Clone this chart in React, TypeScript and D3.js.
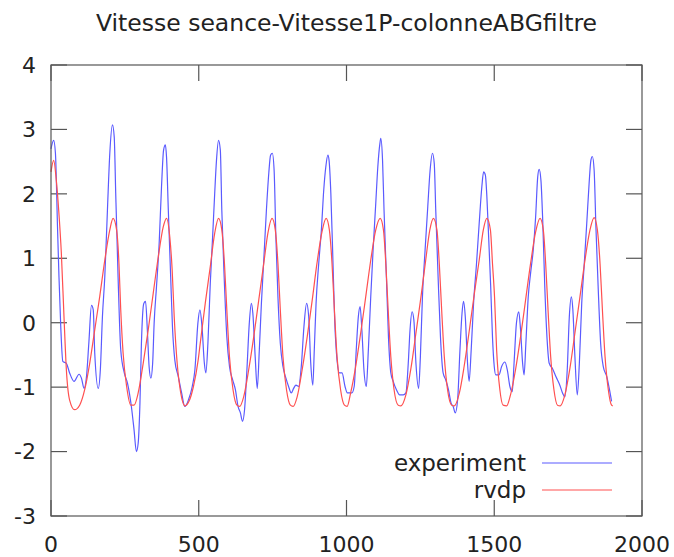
import React, { useEffect, useRef } from 'react';
import * as d3 from 'd3';

type Pt = [number, number];

const chartTitle = 'Vitesse seance-Vitesse1P-colonneABGfiltre';
const seriesNames = ['experiment', 'rvdp'];
const xTicks = [0, 500, 1000, 1500, 2000];
const yTicks = [-3, -2, -1, 0, 1, 2, 3, 4];

// experiment (blue)
const experiment: Pt[] = [
    [0, 2.70], [9, 2.83], [15, 2.63], [22, 1.49], [27, 0.71], [33, -0.06], [40, -0.60], [52, -0.63],
    [63, -0.78], [78, -0.91], [95, -0.80], [103, -0.86], [112, -1.02], [120, -0.84], [128, -0.32],
    [137, 0.27], [143, 0.20], [148, -0.47], [160, -1.02], [167, -0.73], [174, 0.09], [182, 0.71],
    [191, 1.75], [199, 2.63], [208, 3.07], [214, 2.88], [219, 2.01], [227, 0.71], [236, -0.42],
    [248, -0.78], [259, -0.94], [272, -1.30], [281, -1.66], [289, -2.00], [295, -1.87], [301, -1.25],
    [306, -0.32], [314, 0.30], [320, 0.33], [326, -0.11], [332, -0.68], [338, -0.86], [344, -0.63],
    [349, -0.01], [357, 0.56], [366, 1.23], [374, 2.11], [381, 2.68], [387, 2.76], [391, 2.57],
    [397, 1.75], [405, 0.71], [411, -0.06], [419, -0.58], [431, -0.84], [442, -1.09], [453, -1.30],
    [465, -1.20], [478, -0.99], [487, -0.73], [497, -0.01], [504, 0.20], [511, -0.06], [519, -0.63],
    [524, -0.78], [531, -0.32], [539, 0.61], [547, 1.34], [554, 2.01], [560, 2.52], [567, 2.83],
    [573, 2.68], [578, 1.75], [586, 0.71], [595, -0.22], [604, -0.68], [615, -0.89], [624, -1.04],
    [633, -1.30], [641, -1.40], [648, -1.53], [655, -1.35], [663, -0.73], [671, -0.01], [678, 0.30],
    [683, 0.15], [691, -0.53], [698, -1.02], [705, -0.42], [712, 0.30], [720, 0.97], [729, 1.75],
    [737, 2.32], [743, 2.60], [749, 2.63], [755, 2.37], [761, 1.33], [768, 0.40], [776, -0.32],
    [785, -0.68], [795, -0.86], [804, -0.99], [813, -1.09], [821, -1.02], [829, -0.97], [838, -0.99],
    [847, -0.68], [856, -0.06], [865, 0.30], [872, 0.10], [879, -0.63], [886, -0.97], [891, -0.42],
    [897, 0.30], [906, 0.92], [915, 1.44], [923, 2.06], [930, 2.42], [937, 2.60], [941, 2.52],
    [947, 2.01], [954, 0.97], [960, 0.04], [968, -0.58], [976, -0.78], [985, -0.78], [995, -0.99],
    [1003, -1.09], [1018, -1.09], [1026, -0.99], [1033, -0.42], [1040, 0.09], [1046, 0.25],
    [1052, -0.11], [1059, -0.73], [1067, -0.99], [1074, -0.42], [1082, 0.40], [1090, 1.13],
    [1099, 1.85], [1106, 2.42], [1113, 2.78], [1116, 2.86], [1122, 2.52], [1127, 1.75], [1135, 0.71],
    [1142, -0.22], [1150, -0.78], [1158, -0.91], [1169, -1.04], [1180, -1.12], [1192, -1.12],
    [1201, -1.09], [1209, -0.63], [1215, -0.11], [1222, 0.17], [1228, 0.04], [1235, -0.63],
    [1244, -1.02], [1250, -0.53], [1257, 0.40], [1266, 1.13], [1275, 1.80], [1283, 2.37], [1291, 2.63],
    [1297, 2.47], [1302, 1.75], [1310, 0.71], [1318, -0.22], [1327, -0.78], [1336, -0.89],
    [1345, -1.04], [1354, -1.25], [1361, -1.30], [1368, -1.40], [1376, -1.20], [1384, -0.42],
    [1391, 0.15], [1396, 0.33], [1402, 0.09], [1409, -0.58], [1415, -0.91], [1422, -0.42], [1430, 0.30],
    [1440, 0.92], [1449, 1.54], [1458, 2.11], [1464, 2.34], [1470, 2.29], [1475, 1.96], [1481, 1.33],
    [1488, 0.56], [1494, -0.22], [1500, -0.68], [1505, -0.81], [1516, -0.81], [1525, -0.68],
    [1536, -0.61], [1544, -0.73], [1553, -0.99], [1561, -1.07], [1567, -0.63], [1575, -0.01],
    [1583, 0.17], [1589, -0.11], [1596, -0.63], [1601, -0.81], [1607, -0.32], [1615, 0.40],
    [1623, 0.77], [1632, 1.13], [1640, 1.64], [1647, 2.26], [1652, 2.38], [1658, 2.21], [1664, 1.59],
    [1671, 0.56], [1679, -0.27], [1686, -0.63], [1697, -0.71], [1709, -0.84], [1722, -0.97],
    [1731, -1.09], [1739, -1.15], [1747, -0.73], [1754, 0.09], [1761, 0.40], [1766, 0.20],
    [1773, -0.53], [1781, -1.12], [1788, -0.63], [1796, 0.30], [1804, 0.87], [1813, 1.54],
    [1821, 2.16], [1827, 2.52], [1832, 2.58], [1838, 2.37], [1844, 1.49], [1852, 0.51], [1860, -0.32],
    [1869, -0.68], [1881, -0.84], [1890, -1.04], [1897, -1.22],
];

// rvdp model (red)
const rvdp: Pt[] = [
    [0, 2.34], [9, 2.52], [18, 2.21], [26, 1.75], [35, 1.08], [44, 0.09], [52, -0.73], [63, -1.20],
    [80, -1.35], [97, -1.28], [114, -1.04], [131, -0.63], [148, -0.11], [165, 0.41], [182, 0.97],
    [199, 1.44], [210, 1.62], [222, 1.44], [230, 0.92], [236, 0.20], [244, -0.47], [256, -0.99],
    [270, -1.28], [281, -1.28], [295, -1.09], [312, -0.63], [329, -0.11], [346, 0.46], [363, 1.02],
    [380, 1.49], [391, 1.62], [402, 1.33], [410, 0.82], [417, 0.09], [427, -0.63], [439, -1.09],
    [453, -1.29], [467, -1.22], [482, -0.99], [498, -0.58], [505, -0.32], [522, 0.30], [539, 0.87],
    [554, 1.39], [567, 1.62], [578, 1.44], [587, 0.92], [595, 0.20], [604, -0.53], [616, -1.04],
    [629, -1.28], [638, -1.30], [652, -1.15], [669, -0.73], [686, -0.22], [703, 0.35], [720, 0.92],
    [734, 1.39], [748, 1.62], [759, 1.44], [768, 0.92], [776, 0.20], [785, -0.53], [797, -1.04],
    [810, -1.28], [819, -1.30], [833, -1.15], [850, -0.73], [867, -0.22], [884, 0.35], [900, 0.92],
    [917, 1.41], [931, 1.62], [942, 1.44], [951, 0.92], [959, 0.20], [968, -0.53], [980, -1.04],
    [993, -1.28], [1002, -1.30], [1014, -1.09], [1031, -0.68], [1048, -0.16], [1065, 0.40],
    [1082, 0.97], [1099, 1.44], [1114, 1.62], [1125, 1.44], [1133, 0.92], [1141, 0.20], [1150, -0.53],
    [1161, -1.04], [1175, -1.28], [1184, -1.29], [1201, -1.12], [1218, -0.71], [1235, -0.16],
    [1252, 0.40], [1268, 0.97], [1282, 1.44], [1294, 1.62], [1306, 1.44], [1314, 0.92], [1322, 0.20],
    [1331, -0.53], [1342, -1.04], [1356, -1.28], [1365, -1.29], [1382, -1.09], [1398, -0.68],
    [1415, -0.14], [1432, 0.43], [1449, 0.97], [1463, 1.44], [1475, 1.62], [1487, 1.44], [1494, 0.92],
    [1501, 0.40], [1508, -0.42], [1519, -1.04], [1530, -1.28], [1542, -1.29], [1555, -1.12],
    [1572, -0.73], [1589, -0.22], [1606, 0.35], [1623, 0.92], [1640, 1.41], [1655, 1.62], [1666, 1.44],
    [1674, 0.92], [1682, 0.20], [1691, -0.53], [1702, -1.04], [1714, -1.28], [1723, -1.29],
    [1739, -1.12], [1756, -0.71], [1773, -0.16], [1790, 0.40], [1807, 0.97], [1824, 1.44],
    [1838, 1.63], [1849, 1.44], [1858, 0.92], [1866, 0.20], [1875, -0.53], [1886, -1.04],
    [1897, -1.28], [1901, -1.29],
];

const seriesColors = ['#5a5aff', '#ff5050'];

export default function App() {
    const svgRef = useRef<SVGSVGElement>(null);

    useEffect(() => {
        if (!svgRef.current) return;
        const svg = d3.select(svgRef.current);
        svg.selectAll('*').remove();

        const width = 674;
        const height = 557;
        const margin = { top: 65, right: 32, bottom: 41, left: 51 };
        const font = 'DejaVu Sans, sans-serif';
        const axisColor = '#555';
        const tickLen = 16;

        const x = d3.scaleLinear().domain([0, 2000]).range([margin.left, width - margin.right]);
        const y = d3.scaleLinear().domain([-3, 4]).range([height - margin.bottom, margin.top]);

        svg.append('rect')
            .attr('width', width)
            .attr('height', height)
            .attr('fill', 'white');

        // title
        svg.append('text')
            .attr('x', (margin.left + width - margin.right) / 2)
            .attr('y', 31)
            .attr('text-anchor', 'middle')
            .style('font-family', font)
            .style('font-size', '23.5px')
            .attr('fill', '#222')
            .text(chartTitle);

        const ticks = svg.append('g').attr('stroke', axisColor).attr('stroke-width', 1.2);

        // y ticks, both sides, pointing in
        yTicks.forEach(t => {
            ticks.append('line')
                .attr('x1', x(0)).attr('x2', x(0) + tickLen)
                .attr('y1', y(t)).attr('y2', y(t));
            ticks.append('line')
                .attr('x1', x(2000)).attr('x2', x(2000) - tickLen)
                .attr('y1', y(t)).attr('y2', y(t));
        });
        xTicks.forEach(t => {
            ticks.append('line')
                .attr('x1', x(t)).attr('x2', x(t))
                .attr('y1', y(-3)).attr('y2', y(-3) - tickLen);
            ticks.append('line')
                .attr('x1', x(t)).attr('x2', x(t))
                .attr('y1', y(4)).attr('y2', y(4) + tickLen);
        });

        svg.append('g')
            .selectAll('text')
            .data(yTicks)
            .join('text')
            .attr('x', margin.left - 15)
            .attr('y', d => y(d))
            .attr('dy', '0.36em')
            .attr('text-anchor', 'end')
            .style('font-family', font)
            .style('font-size', '22px')
            .attr('fill', '#222')
            .text(d => String(d));

        svg.append('g')
            .selectAll('text')
            .data(xTicks)
            .join('text')
            .attr('x', d => x(d))
            .attr('y', 552)
            .attr('text-anchor', 'middle')
            .style('font-family', font)
            .style('font-size', '22px')
            .attr('fill', '#222')
            .text(d => String(d));

        const line = d3.line<Pt>()
            .x(d => x(d[0]))
            .y(d => y(d[1]))
            .curve(d3.curveMonotoneX);

        [experiment, rvdp].forEach((s, i) => {
            svg.append('path')
                .datum(s)
                .attr('fill', 'none')
                .attr('stroke', seriesColors[i])
                .attr('stroke-width', 1.2)
                .attr('stroke-linejoin', 'round')
                .attr('d', line);
        });

        // legend
        const legendY = [463, 490];
        seriesNames.forEach((name, i) => {
            svg.append('text')
                .attr('x', 526)
                .attr('y', legendY[i])
                .attr('dy', '0.36em')
                .attr('text-anchor', 'end')
                .style('font-family', font)
                .style('font-size', '23px')
                .attr('fill', '#222')
                .text(name);
            svg.append('line')
                .attr('x1', 542).attr('x2', 612)
                .attr('y1', legendY[i]).attr('y2', legendY[i])
                .attr('stroke', seriesColors[i])
                .attr('stroke-width', 1.2);
        });

        // border
        svg.append('rect')
            .attr('x', x(0))
            .attr('y', y(4))
            .attr('width', x(2000) - x(0))
            .attr('height', y(-3) - y(4))
            .attr('fill', 'none')
            .attr('stroke', axisColor)
            .attr('stroke-width', 1.2);
    }, []);

    return (
        <svg
            ref={svgRef}
            width={674}
            height={557}
            style={{ position: 'absolute', left: 0, top: 0, display: 'block' }}
        />
    );
}
